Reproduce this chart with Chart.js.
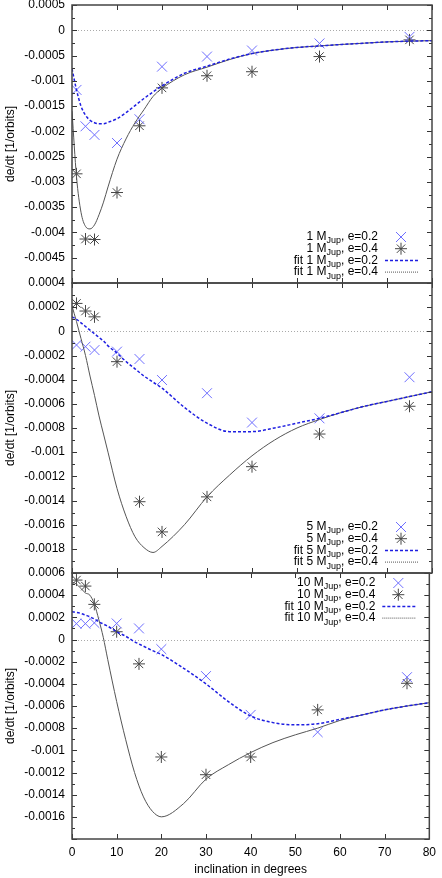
<!DOCTYPE html>
<html lang="en">
<head>
<meta charset="UTF-8">
<meta name="viewport" content="width=device-width, initial-scale=1.0">
<title>de/dt vs inclination</title>
<script src="https://cdn.jsdelivr.net/npm/chart.js"></script>
<style>
    html, body { margin: 0; padding: 0; background: #fff; }
    body { position: relative; width: 442px; height: 878px; overflow: hidden; }
    canvas { position: absolute; left: 0; }
</style>
</head>
<body>
<canvas id="panel1" width="442" height="308" style="top:-10px"></canvas>
<canvas id="panel2" width="442" height="320" style="top:268px"></canvas>
<canvas id="panel3" width="442" height="320" style="top:558px"></canvas>
<script>
    // simulated points (inclination in degrees)
    const incl = [1, 3, 5, 10, 15, 20, 30, 40, 55, 75];
    const m1e2 = [-0.00118, -0.0019, -0.00207, -0.00223, -0.00176, -0.00072, -0.00052, -0.0004, -0.00026, -0.00013];
    const m1e4 = [-0.00284, -0.00413, -0.00414, -0.00321, -0.00189, -0.00114, -0.0009, -0.00082, -0.00052, -0.00019];
    const m5e2 = [-0.000113, -0.000127, -0.000155, -0.000168, -0.000229, -0.000403, -0.000512, -0.000755, -0.00072, -0.00038];
    const m5e4 = [0.000231, 0.000168, 0.00012, -0.000251, -0.00141, -0.00166, -0.00137, -0.00112, -0.00085, -0.00062];
    const m10e2 = [0.000143, 0.000143, 0.00015, 0.000145, 0.0001, -0.000087, -0.00033, -0.00068, -0.000836, -0.00034];
    const m10e4 = [0.000536, 0.000482, 0.000317, 0.00007, -0.00022, -0.00106, -0.00122, -0.00106, -0.000635, -0.000395];

    // fitted curves
    const fitIncl = [0, 1, 2, 3, 4, 5, 6, 7, 8, 10, 12, 14, 16, 18, 20, 25, 30, 35, 40, 45, 50, 55, 60, 65, 70, 75, 80];
    const fit1e2 = [-0.00076, -0.00118, -0.0015, -0.00168, -0.00178, -0.00183, -0.00185, -0.00185, -0.00182, -0.00175, -0.00163, -0.00149, -0.00135, -0.00122, -0.0011, -0.00085, -0.00071, -0.00057, -0.00046, -0.00039, -0.00034, -0.00031, -0.00028, -0.000255, -0.00023, -0.000215, -0.000205];
    const fit1e4 = [-0.0016, -0.0029, -0.0036, -0.00388, -0.00393, -0.00385, -0.00365, -0.0034, -0.0031, -0.00255, -0.00215, -0.00183, -0.00157, -0.00131, -0.00115, -0.00088, -0.00073, -0.00058, -0.00046, -0.00039, -0.00034, -0.00031, -0.00028, -0.000255, -0.00023, -0.000215, -0.000205];
    const fit5e2 = [0.00012, 0.0001, 0.00007, 0.00004, 0.00001, -0.00002, -0.00005, -0.00008, -0.00012, -0.00018, -0.00025, -0.00031, -0.00037, -0.00042, -0.00047, -0.00063, -0.00076, -0.00083, -0.00083, -0.0008, -0.00076, -0.00072, -0.00067, -0.00062, -0.00058, -0.00054, -0.0005];
    const fit5e4 = [0.00021, 0.00008, -0.00006, -0.0002, -0.00037, -0.00053, -0.0007, -0.00085, -0.001, -0.0013, -0.00153, -0.0017, -0.00179, -0.00183, -0.00178, -0.0016, -0.00137, -0.00119, -0.00103, -0.0009, -0.0008, -0.00073, -0.00067, -0.00062, -0.00058, -0.00054, -0.0005];
    const fit10e2 = [0.00025, 0.000245, 0.000235, 0.00022, 0.000205, 0.000185, 0.00016, 0.00014, 0.00012, 0.00007, 0.00003, -0.00002, -0.00006, -0.0001, -0.000135, -0.00026, -0.0004, -0.00056, -0.00069, -0.00075, -0.00077, -0.00076, -0.00072, -0.00068, -0.000635, -0.0006, -0.00057];
    const fit10e4 = [0.00052, 0.0005, 0.00046, 0.00042, 0.0004, 0.00032, 0.00018, 0.00002, -0.00018, -0.00056, -0.0009, -0.0012, -0.00142, -0.00155, -0.0016, -0.00148, -0.00126, -0.00113, -0.00102, -0.00093, -0.00086, -0.0008, -0.00073, -0.00068, -0.000635, -0.0006, -0.00057];

    const masses = ['1', '5', '10'];
    const eccs = ['0.2', '0.4'];

    const fontFamily = "'Liberation Sans', Arial, Helvetica, sans-serif";
    const xColor = 'rgb(110,110,255)';
    const starColor = 'rgb(70,70,70)';
    const blueLine = 'rgb(30,30,225)';
    const grayLine = 'rgb(85,85,85)';

    Chart.defaults.font.family = fontFamily;
    Chart.defaults.font.size = 12;
    Chart.defaults.color = '#000';

    function pts(xs, ys) {
        return xs.map((x, i) => ({ x: x, y: ys[i] }));
    }

    function fmt(v) {
        if (Math.abs(v) < 1e-12) return '0';
        return parseFloat(v.toFixed(5)).toString();
    }

    // gnuplot-like frame: box, inward ticks, zero axis and key
    const gnuFrame = {
        id: 'gnuFrame',
        beforeDatasetsDraw(chart) {
            const { ctx, chartArea: a, scales: { y } } = chart;
            const y0 = Math.round(y.getPixelForValue(0)) + 0.5;
            ctx.save();
            ctx.strokeStyle = '#aaa';
            ctx.lineWidth = 1;
            ctx.setLineDash([1, 2]);
            ctx.beginPath();
            ctx.moveTo(a.left, y0);
            ctx.lineTo(a.right, y0);
            ctx.stroke();
            ctx.restore();
        },
        afterDraw(chart, args, opts) {
            const { ctx, chartArea: a, scales: { x, y } } = chart;
            ctx.save();
            ctx.strokeStyle = '#333';
            ctx.lineWidth = 1;
            ctx.beginPath();
            let prev = null;
            y.ticks.forEach(t => {
                const py = y.getPixelForValue(t.value);
                const ry = Math.round(py) + 0.5;
                ctx.moveTo(a.left, ry); ctx.lineTo(a.left + 5, ry);
                ctx.moveTo(a.right, ry); ctx.lineTo(a.right - 5, ry);
                if (prev !== null) {
                    const my = Math.round((py + prev) / 2) + 0.5;
                    ctx.moveTo(a.left, my); ctx.lineTo(a.left + 3, my);
                    ctx.moveTo(a.right, my); ctx.lineTo(a.right - 3, my);
                }
                prev = py;
            });
            x.ticks.forEach(t => {
                const px = Math.round(x.getPixelForValue(t.value)) + 0.5;
                ctx.moveTo(px, a.bottom); ctx.lineTo(px, a.bottom - 5);
                ctx.moveTo(px, a.top); ctx.lineTo(px, a.top + 5);
            });
            ctx.stroke();
            ctx.lineWidth = 1.5;
            ctx.strokeStyle = '#444';
            ctx.strokeRect(a.left, a.top, a.right - a.left, a.bottom - a.top);

            // key
            const m = opts.mass;
            const rows = [
                { pre: m + ' M', post: ', e=' + eccs[0], s: 'x' },
                { pre: m + ' M', post: ', e=' + eccs[1], s: 'star' },
                { pre: 'fit ' + m + ' M', post: ', e=' + eccs[0], s: 'dash' },
                { pre: 'fit ' + m + ' M', post: ', e=' + eccs[1], s: 'dot' }
            ];
            const top = opts.keyAtTop ? a.top + 10 : a.bottom - 46;
            const textEnd = a.right - 54;
            const mx = a.right - 31;
            ctx.fillStyle = '#000';
            ctx.textBaseline = 'middle';
            ctx.textAlign = 'left';
            rows.forEach((r, i) => {
                const cy = top + i * 11.7;
                ctx.font = '12px ' + fontFamily;
                const w1 = ctx.measureText(r.pre).width;
                const w3 = ctx.measureText(r.post).width;
                ctx.font = '9px ' + fontFamily;
                const w2 = ctx.measureText('Jup').width;
                let tx = textEnd - (w1 + w2 + w3);
                ctx.font = '12px ' + fontFamily;
                ctx.fillText(r.pre, tx, cy);
                ctx.font = '9px ' + fontFamily;
                ctx.fillText('Jup', tx + w1, cy + 4);
                ctx.font = '12px ' + fontFamily;
                ctx.fillText(r.post, tx + w1 + w2, cy);

                ctx.lineWidth = 1;
                ctx.beginPath();
                if (r.s === 'x') {
                    ctx.strokeStyle = xColor;
                    ctx.moveTo(mx - 5, cy - 5); ctx.lineTo(mx + 5, cy + 5);
                    ctx.moveTo(mx - 5, cy + 5); ctx.lineTo(mx + 5, cy - 5);
                } else if (r.s === 'star') {
                    ctx.strokeStyle = starColor;
                    ctx.moveTo(mx - 6, cy); ctx.lineTo(mx + 6, cy);
                    ctx.moveTo(mx, cy - 6); ctx.lineTo(mx, cy + 6);
                    ctx.moveTo(mx - 4.2, cy - 4.2); ctx.lineTo(mx + 4.2, cy + 4.2);
                    ctx.moveTo(mx - 4.2, cy + 4.2); ctx.lineTo(mx + 4.2, cy - 4.2);
                } else if (r.s === 'dash') {
                    ctx.strokeStyle = blueLine;
                    ctx.lineWidth = 1.5;
                    ctx.setLineDash([3, 2]);
                    ctx.moveTo(a.right - 47, cy); ctx.lineTo(a.right - 14, cy);
                } else {
                    ctx.strokeStyle = grayLine;
                    ctx.setLineDash([1, 1]);
                    ctx.moveTo(a.right - 47, cy); ctx.lineTo(a.right - 14, cy);
                }
                ctx.stroke();
                ctx.setLineDash([]);
            });
            ctx.restore();
        }
    };

    function makePanel(id, o) {
        return new Chart(document.getElementById(id), {
            type: 'scatter',
            data: {
                datasets: [
                    {
                        data: pts(fitIncl, o.fit2),
                        showLine: true,
                        borderColor: blueLine,
                        borderWidth: 1.5,
                        borderDash: [3, 2],
                        pointRadius: 0,
                        cubicInterpolationMode: 'monotone'
                    },
                    {
                        data: pts(fitIncl, o.fit4),
                        showLine: true,
                        borderColor: grayLine,
                        borderWidth: 1,
                        pointRadius: 0,
                        cubicInterpolationMode: 'monotone'
                    },
                    {
                        data: pts(incl, o.e2),
                        pointStyle: 'crossRot',
                        pointRadius: 7,
                        pointBorderColor: xColor,
                        pointBorderWidth: 1
                    },
                    {
                        data: pts(incl, o.e4),
                        pointStyle: 'star',
                        pointRadius: 6,
                        pointBorderColor: starColor,
                        pointBorderWidth: 1
                    }
                ]
            },
            options: {
                responsive: false,
                animation: false,
                layout: { padding: { left: 0, right: 10, top: 15, bottom: o.last ? 0 : 15 } },
                plugins: {
                    legend: { display: false },
                    tooltip: { enabled: false },
                    gnuFrame: { mass: o.mass, keyAtTop: o.last }
                },
                scales: {
                    x: {
                        type: 'linear',
                        min: 0,
                        max: 80,
                        grid: { display: false, drawTicks: false },
                        border: { display: false },
                        ticks: { stepSize: 10, padding: 6, maxRotation: 0, display: o.last },
                        title: { display: o.last, text: 'inclination in degrees', padding: { top: 0, bottom: 1 } },
                        afterFit: s => { s.height = o.last ? 39 : 0; }
                    },
                    y: {
                        min: o.min,
                        max: o.max,
                        grid: { display: false, drawTicks: false },
                        border: { display: false },
                        ticks: {
                            stepSize: o.step,
                            padding: 7,
                            callback: (v, i) => i === 0 ? '' : fmt(v)
                        },
                        title: { display: true, text: 'de/dt [1/orbits]', padding: { top: 3, bottom: 0 } },
                        afterFit: s => { s.width = 72; }
                    }
                }
            },
            plugins: [gnuFrame]
        });
    }

    makePanel('panel1', { mass: masses[0], e2: m1e2, e4: m1e4, fit2: fit1e2, fit4: fit1e4, min: -0.005, max: 0.0005, step: 0.0005, last: false });
    makePanel('panel2', { mass: masses[1], e2: m5e2, e4: m5e4, fit2: fit5e2, fit4: fit5e4, min: -0.002, max: 0.0004, step: 0.0002, last: false });
    makePanel('panel3', { mass: masses[2], e2: m10e2, e4: m10e4, fit2: fit10e2, fit4: fit10e4, min: -0.0018, max: 0.0006, step: 0.0002, last: true });
</script>
</body>
</html>
